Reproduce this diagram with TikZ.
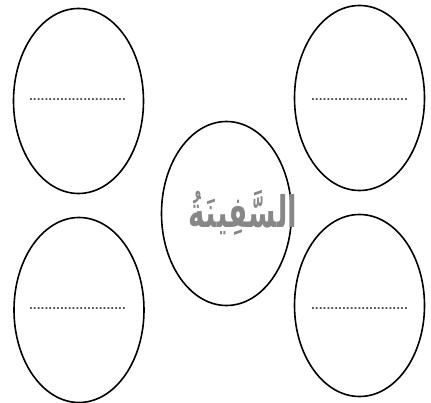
\documentclass[tikz,border=0pt]{standalone}
\usepackage{fontspec}
\newfontfamily\arabicfont[Script=Arabic]{DejaVu Sans}
\newfontfamily\dotfont{DejaVu Sans}
\TeXXeTstate=1
\usetikzlibrary{shapes.geometric}
\tikzset{
  bubble/.style={draw=black, line width=1.6pt, ellipse, minimum width=130pt, minimum height=185pt, inner sep=0pt},
  dotline/.style={text=black!70, font=\dotfont\bfseries\fontsize{10.2}{10.2}\selectfont, inner sep=0pt, anchor=base},
  title/.style={text=black!47, font=\arabicfont\bfseries\fontsize{30}{30}\selectfont, inner sep=0pt, xscale=0.93, yscale=1.45}
}
\begin{document}
\begin{tikzpicture}[x=1pt,y=-1pt]
\useasboundingbox (0,0) rectangle (431,403);
\node[bubble] (tl) at (78.5,101) {};
\node[bubble] (tr) at (359.5,98) {};
\node[bubble] (bl) at (79,310) {};
\node[bubble, minimum height=182pt] (br) at (359.5,305.5) {};
\node[bubble, minimum height=184pt] (c) at (226.5,213.5) {};
\node[dotline] (dtl) at (77.5,101) {.........................};
\node[dotline] (dtr) at (359.5,101) {.........................};
\node[dotline] (dbl) at (77.5,309) {.........................};
\node[dotline] (dbr) at (359.5,309) {.........................};
\node[title] (t) at (243,213) {\beginR السَّفِينَةُ\endR};
\end{tikzpicture}
\end{document}
